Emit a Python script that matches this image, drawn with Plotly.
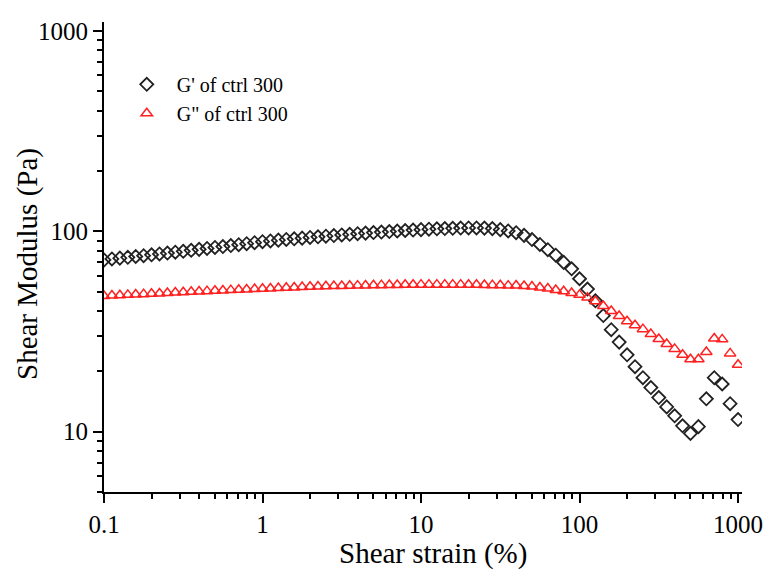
import plotly.graph_objects as go

# Shear strain (%) — 20 points per decade from 0.1 to 1000
strain = [round(10 ** (-1 + 0.05 * i), 4) for i in range(81)]

g_prime = [
    72.0, 72.8, 73.5, 74.2, 74.9, 75.6, 76.4, 77.1, 77.9, 78.7,
    79.5, 80.4, 81.3, 82.2, 83.1, 84.0, 84.9, 85.8, 86.8, 87.8,
    88.8, 89.6, 90.4, 91.1, 91.8, 92.5, 93.2, 93.9, 94.6, 95.3,
    96.0, 96.7, 97.4, 98.0, 98.6, 99.2, 99.8, 100.4, 101.0, 101.5,
    102.0, 102.5, 103.0, 103.3, 103.6, 103.9, 104.0, 104.0, 103.8, 103.2,
    102.0, 100.5, 98.5, 95.5, 91.0, 86.0, 81.0, 76.0, 70.0, 65.0,
    58.0, 51.5, 45.0, 38.0, 32.3, 28.0, 24.2, 21.1, 18.6, 16.6,
    14.8, 13.3, 12.0, 10.7, 9.8, 10.6, 14.6, 18.6, 17.3, 13.8,
    11.5,
]

g_double = [
    47.6, 47.8, 48.0, 48.2, 48.4, 48.6, 48.8, 49.0, 49.2, 49.5,
    49.7, 49.9, 50.1, 50.3, 50.5, 50.7, 50.9, 51.1, 51.3, 51.5,
    51.7, 51.9, 52.1, 52.3, 52.5, 52.7, 52.9, 53.0, 53.2, 53.3,
    53.4, 53.5, 53.6, 53.7, 53.8, 53.9, 54.0, 54.0, 54.1, 54.1,
    54.2, 54.2, 54.2, 54.2, 54.2, 54.2, 54.1, 54.1, 54.0, 53.9,
    53.8, 53.6, 53.7, 53.4, 53.0, 52.5, 51.8, 51.0, 50.2, 49.2,
    48.2, 46.7, 44.8, 42.4, 40.0, 37.8, 35.6, 34.0, 32.5, 30.7,
    29.0, 27.4, 25.9, 24.2, 23.0, 23.0, 25.0, 29.2, 28.9, 24.6,
    21.6,
]

x_ticks = [0.1, 1, 10, 100, 1000]
x_tick_text = ["0.1", "1", "10", "100", "1000"]
y_ticks = [10, 100, 1000]
y_tick_text = ["10", "100", "1000"]

x_minor = [m * d for d in [0.1, 1, 10, 100] for m in range(2, 10)]
y_minor = [m * d for d in [1, 10, 100] for m in range(2, 10) if m * d >= 5]

x_title = "Shear strain (%)"
y_title = "Shear Modulus (Pa)"

FONT = "Liberation Serif, Times New Roman, serif"

fig = go.Figure()
fig.add_trace(go.Scatter(
    x=strain, y=g_prime, mode="markers", name="G' of ctrl 300",
    marker=dict(symbol="diamond-open", size=10, color="#222222",
                line=dict(width=1.8, color="#222222")),
))
fig.add_trace(go.Scatter(
    x=strain, y=g_double, mode="markers", name='G" of ctrl 300',
    marker=dict(symbol="triangle-up-open", size=10, color="#ff2020",
                line=dict(width=1.5, color="#ff2020")),
))

axis_common = dict(
    showgrid=False, zeroline=False, showline=True, linecolor="black",
    linewidth=2, ticks="outside", tickcolor="black", tickwidth=1.5,
    ticklen=9, tickfont=dict(family=FONT, size=25, color="black"),
    automargin=False,
)

fig.update_xaxes(
    type="log", range=[-1, 3.025], tickvals=x_ticks, ticktext=x_tick_text,
    minor=dict(tickvals=x_minor, ticks="outside", ticklen=5, tickcolor="black",
               tickwidth=1.5),
    **axis_common,
)
fig.update_yaxes(
    type="log", range=[0.699, 3.045], tickvals=y_ticks, ticktext=y_tick_text,
    minor=dict(tickvals=y_minor, ticks="outside", ticklen=5, tickcolor="black",
               tickwidth=1.5),
    **axis_common,
)

fig.add_annotation(text=x_title, xref="paper", yref="paper",
                   x=(433 - 104) / 638, y=-(553 - 492) / 470,
                   xanchor="center", yanchor="middle", showarrow=False,
                   font=dict(family=FONT, size=29, color="black"))
fig.add_annotation(text=y_title, xref="paper", yref="paper",
                   x=(27 - 104) / 638, y=(492 - 264) / 470,
                   xanchor="center", yanchor="middle", showarrow=False,
                   textangle=-90,
                   font=dict(family=FONT, size=29, color="black"))

fig.update_layout(
    width=766, height=572,
    margin=dict(l=104, r=24, t=22, b=80),
    paper_bgcolor="white", plot_bgcolor="white",
    font=dict(family=FONT, color="black"),
    showlegend=True,
    legend=dict(x=0.02, y=0.909, xanchor="left", yanchor="top",
                bgcolor="rgba(0,0,0,0)", itemwidth=50,
                font=dict(family=FONT, size=20, color="black"),
                tracegroupgap=0),
)

fig.write_html("out.html")
